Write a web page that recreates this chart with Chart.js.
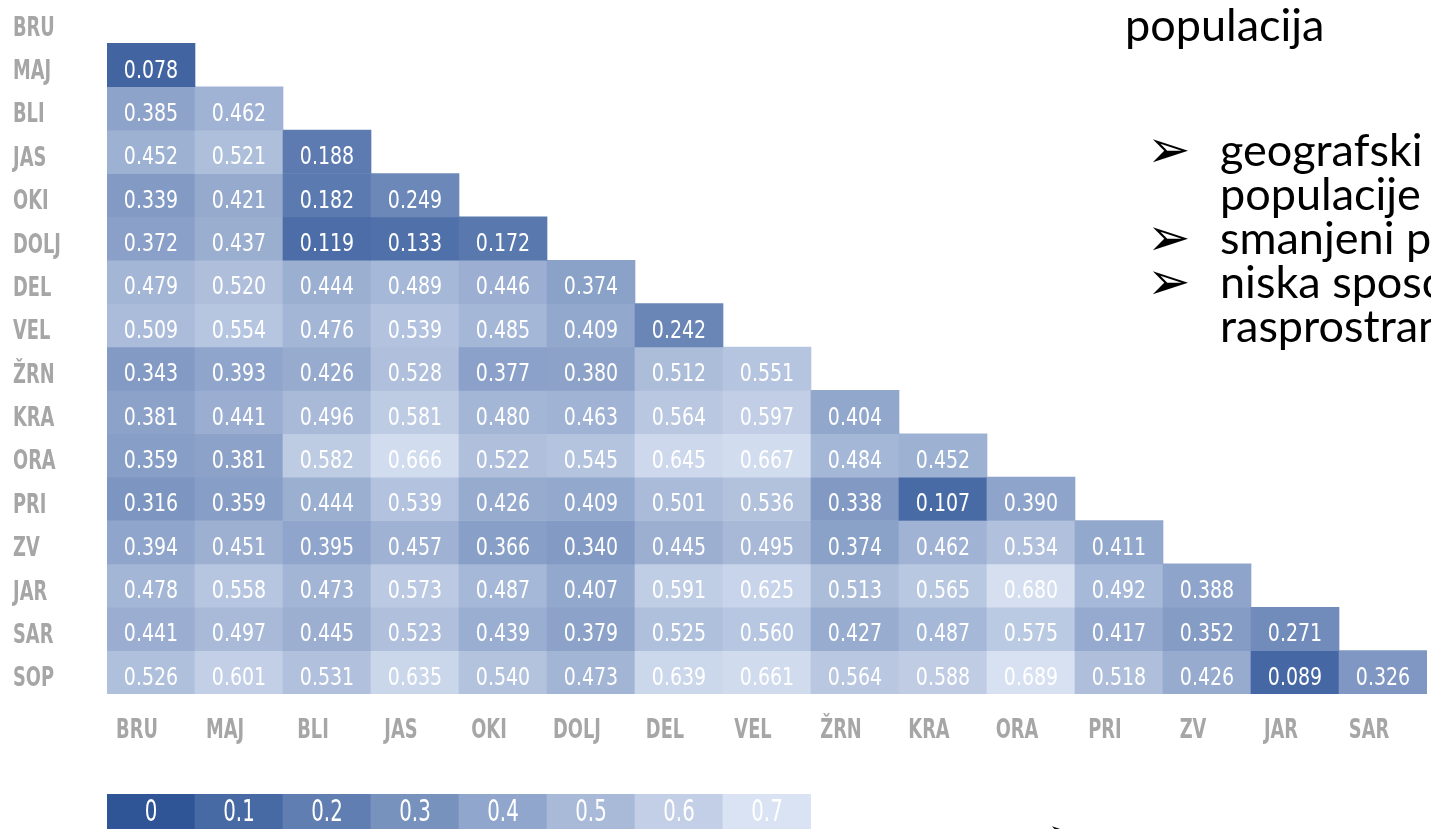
<!DOCTYPE html>
<html>
<head>
<meta charset="utf-8">
<script src="https://cdn.jsdelivr.net/npm/chart.js@4.4.1/dist/chart.umd.min.js"></script>
<style>
  html, body { margin: 0; padding: 0; width: 1431px; height: 829px; overflow: hidden; background: #fff; }
  canvas { position: absolute; }
  #heat { left: 0; top: 0; }
  #scale { left: 107px; top: 794px; }
  .txt { position: absolute; font-family: Lato, 'Open Sans', sans-serif; font-size: 45px; line-height: 45px; color: #000; white-space: nowrap; }
  .bul { position: absolute; font-family: 'DejaVu Sans', sans-serif; font-size: 52px; line-height: 52px; color: #000; }
</style>
</head>
<body>
<canvas id="heat" width="1431" height="760"></canvas>
<canvas id="scale" width="704" height="44"></canvas>

<div class="txt" style="left:1125px; top:2px;">populacija</div>
<div class="bul" style="left:1147px; top:123px;">➢</div>
<div class="txt" style="left:1220px; top:127px;">geografski</div>
<div class="txt" style="left:1220px; top:171px;">populacije</div>
<div class="bul" style="left:1147px; top:211px;">➢</div>
<div class="txt" style="left:1220px; top:215px;">smanjeni p</div>
<div class="bul" style="left:1147px; top:255px;">➢</div>
<div class="txt" style="left:1220px; top:259px;">niska sposo</div>
<div class="txt" style="left:1220px; top:303px;">rasprostran</div>
<div class="bul" style="left:1046px; top:810px;">➢</div>

<script>
// populations (rows top to bottom, columns left to right)
const rowNames = ['BRU', 'MAJ', 'BLI', 'JAS', 'OKI', 'DOLJ', 'DEL', 'VEL', 'ŽRN', 'KRA', 'ORA', 'PRI', 'ZV', 'JAR', 'SAR', 'SOP'];
const colNames = ['BRU', 'MAJ', 'BLI', 'JAS', 'OKI', 'DOLJ', 'DEL', 'VEL', 'ŽRN', 'KRA', 'ORA', 'PRI', 'ZV', 'JAR', 'SAR'];

// pairwise values, lower triangle
const MAJ  = [0.078];
const BLI  = [0.385, 0.462];
const JAS  = [0.452, 0.521, 0.188];
const OKI  = [0.339, 0.421, 0.182, 0.249];
const DOLJ = [0.372, 0.437, 0.119, 0.133, 0.172];
const DEL  = [0.479, 0.520, 0.444, 0.489, 0.446, 0.374];
const VEL  = [0.509, 0.554, 0.476, 0.539, 0.485, 0.409, 0.242];
const ZRN  = [0.343, 0.393, 0.426, 0.528, 0.377, 0.380, 0.512, 0.551];
const KRA  = [0.381, 0.441, 0.496, 0.581, 0.480, 0.463, 0.564, 0.597, 0.404];
const ORA  = [0.359, 0.381, 0.582, 0.666, 0.522, 0.545, 0.645, 0.667, 0.484, 0.452];
const PRI  = [0.316, 0.359, 0.444, 0.539, 0.426, 0.409, 0.501, 0.536, 0.338, 0.107, 0.390];
const ZV   = [0.394, 0.451, 0.395, 0.457, 0.366, 0.340, 0.445, 0.495, 0.374, 0.462, 0.534, 0.411];
const JAR  = [0.478, 0.558, 0.473, 0.573, 0.487, 0.407, 0.591, 0.625, 0.513, 0.565, 0.680, 0.492, 0.388];
const SAR  = [0.441, 0.497, 0.445, 0.523, 0.439, 0.379, 0.525, 0.560, 0.427, 0.487, 0.575, 0.417, 0.352, 0.271];
const SOP  = [0.526, 0.601, 0.531, 0.635, 0.540, 0.473, 0.639, 0.661, 0.564, 0.588, 0.689, 0.518, 0.426, 0.089, 0.326];

// colour key
const keyLabels = ['0', '0.1', '0.2', '0.3', '0.4', '0.5', '0.6', '0.7'];
const keyValues = [0, 0.1, 0.2, 0.3, 0.4, 0.5, 0.6, 0.7];

const rowValues = [[], MAJ, BLI, JAS, OKI, DOLJ, DEL, VEL, ZRN, KRA, ORA, PRI, ZV, JAR, SAR, SOP];

const dark = [47, 85, 151];
const light = [218, 227, 243];
function shade(v) {
  const t = Math.max(0, Math.min(1, v / 0.7));
  const c = dark.map((d, i) => Math.round(d + (light[i] - d) * t));
  return 'rgb(' + c.join(',') + ')';
}

// no condensed face installed, so squeeze the text horizontally
function narrowText(ctx, text, x, y, sx) {
  ctx.save();
  ctx.translate(x, y);
  ctx.scale(sx, 1);
  ctx.fillText(text, 0, 0);
  ctx.restore();
}

// writes each cell's value in the middle of its bar
const cellText = {
  id: 'cellText',
  afterDatasetsDraw(chart, args, opts) {
    const ctx = chart.ctx;
    ctx.save();
    ctx.font = opts.font;
    ctx.fillStyle = '#fff';
    ctx.textAlign = 'center';
    ctx.textBaseline = 'middle';
    chart.data.datasets.forEach((ds, di) => {
      chart.getDatasetMeta(di).data.forEach((bar, i) => {
        const v = ds.values[i];
        if (v === undefined) return;
        const p = bar.getProps(['x', 'y', 'base'], true);
        narrowText(ctx, opts.format(v, i), p.x, (p.y + p.base) / 2 + opts.dy, opts.sx);
      });
    });
    ctx.restore();
  }
};

// population names on both axes
const axisText = {
  id: 'axisText',
  afterDraw(chart) {
    const ctx = chart.ctx;
    const xs = chart.scales.x, ys = chart.scales.y;
    ctx.save();
    ctx.font = "bold 27px 'DejaVu Sans', sans-serif";
    ctx.fillStyle = '#a6a6a6';
    ctx.textBaseline = 'middle';
    ctx.textAlign = 'left';
    rowNames.forEach((n, i) => narrowText(ctx, n, 13, ys.getPixelForValue(i) + 7, 0.66));
    ctx.textAlign = 'center';
    colNames.forEach((n, i) => narrowText(ctx, n, xs.getPixelForValue(i) - 14, chart.chartArea.bottom + 37, 0.66));
    ctx.restore();
  }
};

const datasets = [];
for (let r = 1; r < rowNames.length; r++) {
  const vals = rowValues[r];
  datasets.push({
    label: rowNames[r],
    values: vals,
    data: colNames.map((c, ci) => ci < vals.length ? [r - 0.5, r + 0.5] : null),
    backgroundColor: colNames.map((c, ci) => ci < vals.length ? shade(vals[ci]) : 'rgba(0,0,0,0)'),
    borderWidth: 0,
    grouped: false,
    barPercentage: 1,
    categoryPercentage: 1
  });
}

const heatChart = new Chart(document.getElementById('heat'), {
  type: 'bar',
  data: { labels: colNames, datasets: datasets },
  options: {
    responsive: false,
    animation: false,
    events: [],
    layout: { padding: { left: 12, right: 4, top: 0, bottom: 0 } },
    plugins: {
      legend: { display: false },
      tooltip: { enabled: false },
      cellText: { font: "25px 'DejaVu Sans', sans-serif", dy: 6, sx: 0.76, format: v => v.toFixed(3) }
    },
    scales: {
      x: {
        grid: { display: false, drawTicks: false },
        border: { display: false },
        ticks: { display: false },
        afterFit(scale) { scale.height = 66; scale.paddingLeft = 0; scale.paddingRight = 0; }
      },
      y: {
        type: 'linear',
        reverse: true,
        min: -0.5,
        max: rowNames.length - 0.5,
        grid: { display: false, drawTicks: false },
        border: { display: false },
        ticks: { display: false },
        afterFit(scale) { scale.width = 95; scale.paddingTop = 0; scale.paddingBottom = 0; }
      }
    }
  },
  plugins: [cellText, axisText]
});

const keyChart = new Chart(document.getElementById('scale'), {
  type: 'bar',
  data: {
    labels: keyLabels,
    datasets: [{
      values: keyValues,
      data: keyValues.map(() => [0, 1]),
      backgroundColor: keyValues.map(shade),
      borderWidth: 0,
      barPercentage: 1,
      categoryPercentage: 1
    }]
  },
  options: {
    responsive: false,
    animation: false,
    events: [],
    layout: { padding: 0 },
    plugins: {
      legend: { display: false },
      tooltip: { enabled: false },
      cellText: { font: "30px 'DejaVu Sans', sans-serif", dy: -3, sx: 0.66, format: (v, i) => keyLabels[i] }
    },
    scales: {
      x: { display: false },
      y: { display: false, min: 0, max: 1 }
    }
  },
  plugins: [cellText]
});
</script>
</body>
</html>
